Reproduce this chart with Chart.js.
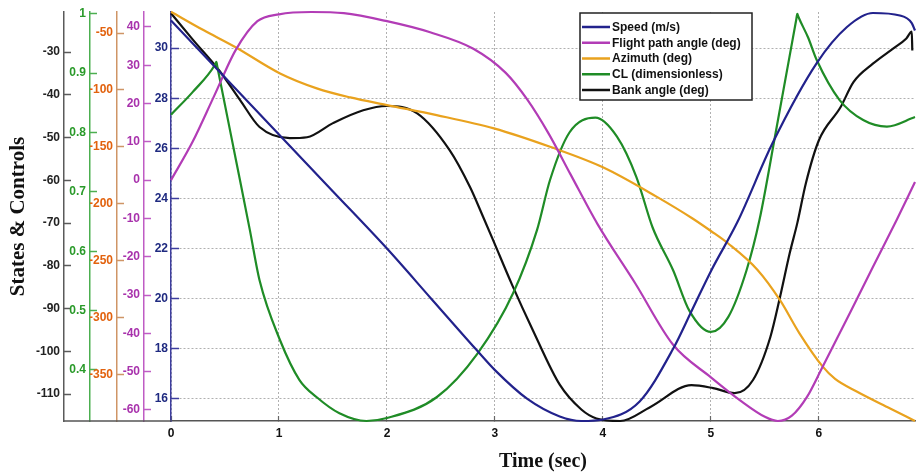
<!DOCTYPE html>
<html><head><meta charset="utf-8">
<script src="https://cdn.jsdelivr.net/npm/chart.js@4/dist/chart.umd.min.js"></script>
<style>html,body{margin:0;padding:0;background:#fff;}canvas{display:block;}</style>
</head><body>
<canvas id="c" width="921" height="475"></canvas>
<script>
// ---- tick labels ----
const timeTicks  = [0, 1, 2, 3, 4, 5, 6];
const bankTicks  = [-30, -40, -50, -60, -70, -80, -90, -100, -110];
const clTicks    = [1, 0.9, 0.8, 0.7, 0.6, 0.5, 0.4];
const azTicks    = [-50, -100, -150, -200, -250, -300, -350];
const fpaTicks   = [40, 30, 20, 10, 0, -10, -20, -30, -40, -50, -60];
const speedTicks = [30, 28, 26, 24, 22, 20, 18, 16];

// ---- series (time in sec) ----
const speedT = [0, 0.5, 1.0, 1.5, 2.0, 2.41, 2.82, 3.0, 3.3, 3.6, 3.8, 4.0, 4.34, 4.65, 4.82, 5.0, 5.25, 5.57, 5.98, 6.26, 6.5, 6.75, 6.86, 6.89];
const speedV = [31.1, 28.83, 26.55, 24.28, 22.0, 20.0, 18.0, 17.15, 16.0, 15.3, 15.12, 15.18, 15.9, 18.0, 19.5, 21.1, 23.1, 26.2, 29.4, 30.84, 31.4, 31.3, 31.0, 30.7];

const fpaT = [0, 0.2, 0.4, 0.6, 0.8, 1.0, 1.3, 1.6, 2.0, 2.4, 2.8, 3.1, 3.3, 3.5, 3.7, 3.95, 4.3, 4.65, 5.0, 5.27, 5.5, 5.62, 5.75, 5.89, 6.03, 6.3, 6.5, 6.72, 6.89];
const fpaV = [0, 10, 22, 34, 41.5, 43.3, 43.9, 43.6, 41.5, 38.6, 34.3, 28, 21, 12, 1.5, -11.5, -27, -43, -51.5, -57.5, -61.8, -62.9, -61.5, -56.6, -49, -34, -22.7, -10.4, -0.5];

const azT = [0, 0.3, 0.59, 1.01, 1.35, 1.66, 2.0, 2.46, 2.99, 3.51, 4.0, 4.5, 4.83, 5.0, 5.16, 5.43, 5.64, 5.82, 6.03, 6.15, 6.35, 6.66, 6.89];
const azV = [-31.3, -47.4, -62, -85.5, -98.6, -106.6, -113.3, -122.1, -133.8, -150, -168, -194, -213, -224, -235, -258, -284.8, -313.9, -342.5, -354, -365, -380, -391];

const clT = [0, 0.2, 0.41, 0.42, 0.43, 0.6, 0.73, 0.82, 1.01, 1.19, 1.35, 1.56, 1.81, 2.0, 2.46, 2.84, 3.17, 3.39, 3.51, 3.69, 3.93, 4.13, 4.31, 4.46, 4.65, 4.8, 5.0, 5.16, 5.33, 5.45, 5.6, 5.79, 5.8, 5.81, 5.9, 5.98, 6.19, 6.41, 6.63, 6.89];
const clV = [0.83, 0.868, 0.915, 0.919, 0.91, 0.755, 0.636, 0.551, 0.45, 0.383, 0.354, 0.327, 0.314, 0.319, 0.354, 0.428, 0.53, 0.636, 0.72, 0.80, 0.825, 0.793, 0.725, 0.64, 0.568, 0.50, 0.464, 0.489, 0.568, 0.653, 0.80, 0.99, 1.0, 0.995, 0.96, 0.922, 0.855, 0.821, 0.81, 0.826];

const bankT = [0, 0.2, 0.45, 0.64, 0.82, 1.1, 1.26, 1.5, 1.78, 2.0, 2.28, 2.58, 2.77, 2.89, 2.98, 3.16, 3.35, 3.6, 3.8, 3.94, 4.16, 4.44, 4.82, 5.02, 5.22, 5.39, 5.55, 5.64, 5.73, 5.8, 5.88, 6.0, 6.2, 6.32, 6.5, 6.69, 6.81, 6.86, 6.865];
const bankV = [-20.9, -27, -34.4, -41.2, -47.5, -50.1, -49.9, -46.6, -43.6, -42.6, -44.3, -52.9, -61.6, -68.5, -73.8, -84.5, -95, -107.8, -113.6, -115.7, -116.3, -113, -107.9, -108.6, -109.8, -106.7, -96.7, -87.3, -77, -70, -60.6, -50.6, -42.9, -37, -32.7, -29.1, -26.8, -25.2, -29.6];

const pts = (t, v) => t.map((x, i) => ({x: x, y: v[i]}));

const FONT = 'Liberation Sans, Arial, sans-serif';
const tickFont = {family: FONT, size: 12, weight: 'bold'};

function leftAxis(opts) {
  return {
    type: 'linear', position: 'left', weight: opts.weight,
    min: opts.min, max: opts.max,
    afterBuildTicks: (s) => { s.ticks = opts.ticks.map(v => ({value: v})); },
    afterFit: (s) => { s.width = opts.width; s.paddingTop = 0; s.paddingBottom = 0; },
    ticks: {font: tickFont, color: opts.labelColor, padding: 11, callback: (v) => String(v)},
    grid: Object.assign({drawOnChartArea: false, drawTicks: true, tickLength: -7, tickColor: opts.lineColor, tickWidth: 1.5, tickBorderDash: []}, opts.grid || {}),
    border: Object.assign({color: opts.lineColor, width: 1.5}, opts.border || {}),
    title: opts.title || {display: false}
  };
}

const baseLine = {
  id: 'baseLine',
  afterDraw(chart) {
    const s = chart.scales.yBank, ca = chart.chartArea, ctx = chart.ctx;
    ctx.save();
    ctx.strokeStyle = '#555'; ctx.lineWidth = 1.5;
    ctx.beginPath(); ctx.moveTo(s.right, ca.bottom); ctx.lineTo(ca.left, ca.bottom); ctx.stroke();
    ctx.restore();
  }
};

const legendBox = {
  id: 'legendBox',
  afterDatasetsDraw(chart) {
    const ctx = chart.ctx, ca = chart.chartArea;
    const x = ca.left + 409, y = ca.top + 1, w = 172, h = 87;
    ctx.save();
    ctx.fillStyle = '#fff'; ctx.fillRect(x, y, w, h);
    ctx.lineWidth = 1.5; ctx.strokeStyle = '#222'; ctx.strokeRect(x, y, w, h);
    ctx.font = 'bold 12px ' + FONT;
    ctx.textBaseline = 'middle'; ctx.textAlign = 'left';
    chart.data.datasets.forEach((ds, i) => {
      const cy = y + 14 + i * 15.75;
      ctx.strokeStyle = ds.borderColor; ctx.lineWidth = 2.5;
      ctx.beginPath(); ctx.moveTo(x + 2, cy); ctx.lineTo(x + 30, cy); ctx.stroke();
      ctx.fillStyle = '#111'; ctx.fillText(ds.label, x + 32, cy + 0.5);
    });
    ctx.restore();
  }
};

const common = {pointRadius: 0, borderWidth: 2.2, fill: false, cubicInterpolationMode: 'monotone', clip: false};

new Chart(document.getElementById('c'), {
  type: 'line',
  data: {
    datasets: [
      Object.assign({label: 'Speed (m/s)', data: pts(speedT, speedV), borderColor: '#22228c', yAxisID: 'ySpeed'}, common),
      Object.assign({label: 'Flight path angle (deg)', data: pts(fpaT, fpaV), borderColor: '#b23cb6', yAxisID: 'yFpa'}, common),
      Object.assign({label: 'Azimuth (deg)', data: pts(azT, azV), borderColor: '#e9a21e', yAxisID: 'yAz'}, common),
      Object.assign({label: 'CL (dimensionless)', data: pts(clT, clV), borderColor: '#1f8c26', yAxisID: 'yCL'}, common),
      Object.assign({label: 'Bank angle (deg)', data: pts(bankT, bankV), borderColor: '#111111', yAxisID: 'yBank'}, common)
    ]
  },
  options: {
    responsive: false, animation: false, devicePixelRatio: 1, events: [],
    layout: {padding: {left: 0, top: 12, right: 6, bottom: 0}},
    plugins: {legend: {display: false}, tooltip: {enabled: false}},
    scales: {
      x: {
        type: 'linear', position: 'bottom', min: 0, max: 6.89,
        afterBuildTicks: (s) => { s.ticks = timeTicks.map(v => ({value: v})); },
        afterFit: (s) => { s.height = 54; s.paddingLeft = 0; s.paddingRight = 0; },
        ticks: {font: tickFont, color: '#111', padding: 10, callback: (v) => String(v)},
        grid: {drawOnChartArea: true, color: '#b0b0b0', lineWidth: 1, tickLength: -5, tickColor: '#666', tickWidth: 1.2, tickBorderDash: []},
        border: {color: '#555', width: 1.5, dash: [2, 2]},
        title: {display: true, text: 'Time (sec)', color: '#111', font: {family: 'Liberation Serif, Times New Roman, serif', size: 20, weight: 'bold'}, padding: {top: 0, bottom: 1}}
      },
      yBank: leftAxis({weight: 5, width: 64, min: -116.3, max: -20.6, ticks: bankTicks, labelColor: '#222', lineColor: '#5a5a5a',
        title: {display: true, text: 'States & Controls', color: '#111', font: {family: 'Liberation Serif, Times New Roman, serif', size: 21, weight: 'bold'}, padding: {top: 6, bottom: 0}}}),
      yCL: leftAxis({weight: 4, width: 26, min: 0.314, max: 1.003, ticks: clTicks, labelColor: '#2a9a2a', lineColor: '#4caf50'}),
      yAz: leftAxis({weight: 3, width: 27, min: -391, max: -31.5, ticks: azTicks, labelColor: '#e2620e', lineColor: '#cf9566'}),
      yFpa: leftAxis({weight: 2, width: 27, min: -62.9, max: 43.9, ticks: fpaTicks, labelColor: '#a832ac', lineColor: '#bf5cc4'}),
      ySpeed: leftAxis({weight: 1, width: 27, min: 15.12, max: 31.44, ticks: speedTicks, labelColor: '#1f2a80', lineColor: '#3d3d9e',
        grid: {drawOnChartArea: true, color: '#b0b0b0', lineWidth: 1, tickLength: -8, tickColor: '#3d3d9e', tickWidth: 1.5, tickBorderDash: []},
        border: {color: '#3d3d9e', width: 1.5, dash: [2, 2]}})
    }
  },
  plugins: [baseLine, legendBox]
});
</script>
</body></html>
